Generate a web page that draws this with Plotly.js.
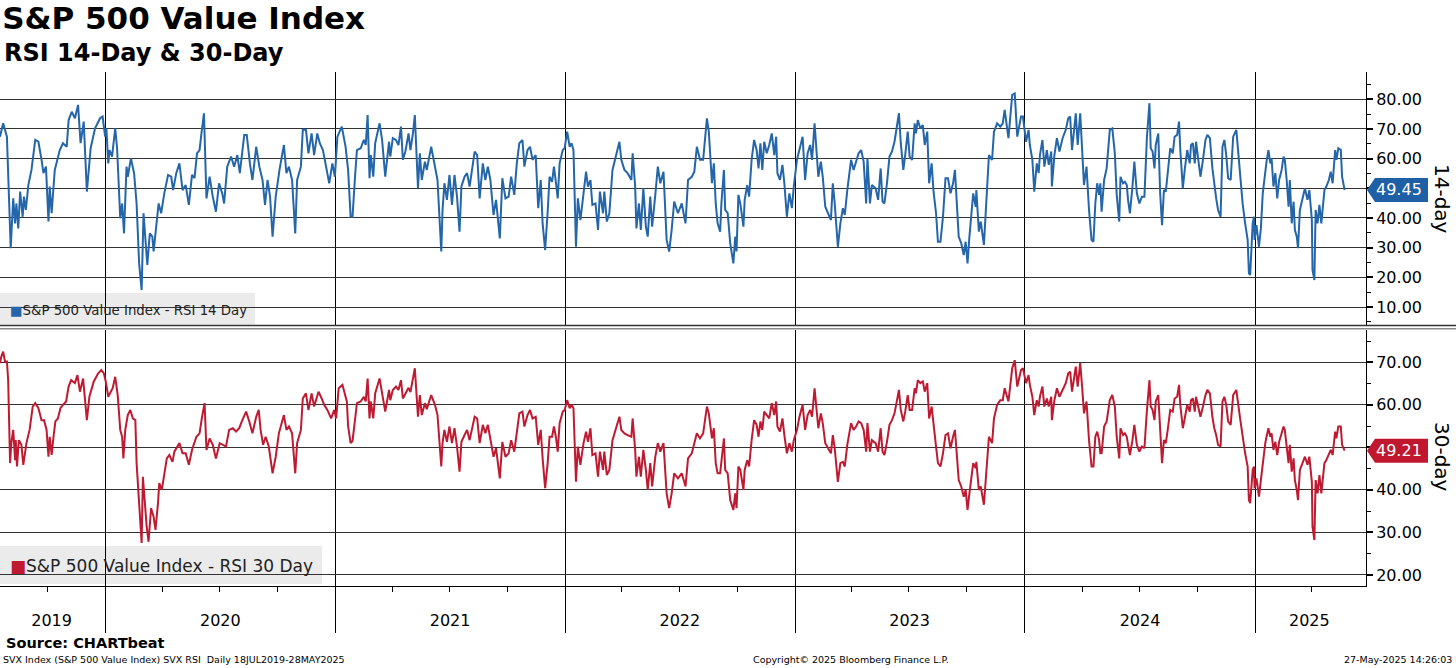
<!DOCTYPE html>
<html>
<head>
<meta charset="utf-8">
<script src="https://cdn.plot.ly/plotly-3.0.1.min.js"></script>
<style>
  html, body { margin: 0; padding: 0; background: #ffffff; }
  #chart { width: 1456px; height: 668px; }
</style>
</head>
<body>
<div id="chart"></div>
<script>
// ---------------- DATA ----------------
// 14-day RSI, Jul 2019 - mid Jan 2021
const datesEarly14 = [
'2019-07-18','2019-07-23','2019-07-29','2019-08-04','2019-08-08','2019-08-11','2019-08-13','2019-08-16','2019-08-19','2019-08-23',
'2019-08-25','2019-08-28','2019-09-01','2019-09-06','2019-09-12','2019-09-17','2019-09-22','2019-09-25','2019-09-29','2019-10-03',
'2019-10-05','2019-10-08','2019-10-13','2019-10-16','2019-10-21','2019-10-26','2019-11-01','2019-11-04','2019-11-09','2019-11-14',
'2019-11-19','2019-11-23','2019-11-28','2019-12-03','2019-12-09','2019-12-16','2019-12-24','2019-12-28',
'2020-01-01','2020-01-03','2020-01-06','2020-01-08','2020-01-12','2020-01-17','2020-01-20','2020-01-25','2020-01-28','2020-01-31',
'2020-02-04','2020-02-06','2020-02-11','2020-02-16','2020-02-20','2020-02-24','2020-02-28',
'2020-03-02','2020-03-05','2020-03-08','2020-03-12','2020-03-16','2020-03-18','2020-03-22','2020-03-26','2020-03-30',
'2020-04-04','2020-04-10','2020-04-15','2020-04-18','2020-04-23','2020-04-28',
'2020-05-03','2020-05-08','2020-05-13','2020-05-18','2020-05-22','2020-05-26','2020-05-30',
'2020-06-02','2020-06-06','2020-06-10','2020-06-15','2020-06-20','2020-06-25','2020-06-30',
'2020-07-05','2020-07-08','2020-07-13','2020-07-19','2020-07-24','2020-07-29',
'2020-08-02','2020-08-09','2020-08-13','2020-08-18','2020-08-22','2020-08-28',
'2020-09-02','2020-09-07','2020-09-11','2020-09-15','2020-09-19','2020-09-23','2020-09-28',
'2020-10-04','2020-10-11','2020-10-15','2020-10-19','2020-10-24','2020-10-29',
'2020-11-01','2020-11-07','2020-11-10','2020-11-15','2020-11-19','2020-11-24','2020-11-28',
'2020-12-03','2020-12-07','2020-12-12','2020-12-17','2020-12-22','2020-12-27','2020-12-31',
'2021-01-04','2021-01-11','2021-01-17'
];
const rsi14Early = [
67.4,71.9,67.4,29.8,46.6,38.2,44.9,36.5,48.9,40.4,
47.2,42.7,51.1,56.2,66.3,65.7,59.6,55.1,57.3,38.8,
50.6,41.6,56.2,59,62.9,65.2,64,73,75.8,73.6,
78.1,65.2,72.5,48.9,63.5,70.2,73.6,74.2,
67.4,70.2,58.4,62.9,60.7,70.2,63.5,39.9,44.9,34.8,
57.3,53.9,60.1,55.1,44.9,24.7,15.7,
41.6,31.5,24.2,34.8,33.7,28.7,38.2,44.9,41.6,
48.3,54.5,53.9,49.4,55.1,58.4,
49.4,51.1,44.4,54.5,53.4,61.8,62.9,
68.5,75.3,46.6,53.9,47.2,42.1,51.7,
48.3,44.9,57.3,60.7,57.3,61.2,
55.1,68,68,58.4,52.8,64,
57.3,52.8,44.4,52.8,47.2,33.7,47.2,
56.2,64.6,55.1,57.3,52.8,34.8,
52.8,57.3,69.7,69.7,61.8,68.5,61.2,
68.5,65.2,62.9,57.3,51.7,58.4,53.9,
67.4,70.8,64
];

// 30-day RSI, Jul 2019 - mid Jan 2021
const datesEarly30 = [
'2019-07-18','2019-07-20','2019-07-23','2019-07-26','2019-07-29','2019-07-31','2019-08-03','2019-08-05','2019-08-08','2019-08-11',
'2019-08-12','2019-08-14','2019-08-17','2019-08-21','2019-08-24','2019-08-26','2019-08-29','2019-09-03','2019-09-08','2019-09-12',
'2019-09-17','2019-09-22','2019-09-26','2019-09-30','2019-10-03','2019-10-05','2019-10-08','2019-10-11','2019-10-14','2019-10-18',
'2019-10-22','2019-10-26','2019-10-31','2019-11-04','2019-11-08','2019-11-14','2019-11-18','2019-11-22','2019-11-27','2019-12-03',
'2019-12-07','2019-12-14','2019-12-21','2019-12-26','2019-12-30',
'2020-01-02','2020-01-06','2020-01-10','2020-01-13','2020-01-17','2020-01-21','2020-01-25','2020-01-28','2020-01-30',
'2020-02-02','2020-02-06','2020-02-10','2020-02-14','2020-02-18','2020-02-20','2020-02-24','2020-02-28',
'2020-03-01','2020-03-04','2020-03-07','2020-03-10','2020-03-14','2020-03-18','2020-03-21','2020-03-25','2020-03-27','2020-03-31',
'2020-04-04','2020-04-08','2020-04-12','2020-04-17','2020-04-20','2020-04-25','2020-04-28',
'2020-05-03','2020-05-08','2020-05-13','2020-05-18','2020-05-25','2020-05-30',
'2020-06-03','2020-06-07','2020-06-10','2020-06-15','2020-06-20','2020-06-25',
'2020-07-01','2020-07-05','2020-07-11','2020-07-16','2020-07-22','2020-07-27',
'2020-08-01','2020-08-06','2020-08-12','2020-08-17','2020-08-22','2020-08-28',
'2020-09-01','2020-09-04','2020-09-08','2020-09-12','2020-09-17','2020-09-23','2020-09-28',
'2020-10-03','2020-10-11','2020-10-15','2020-10-19','2020-10-24','2020-10-29',
'2020-11-01','2020-11-07','2020-11-10','2020-11-15','2020-11-19','2020-11-24','2020-11-28',
'2020-12-05','2020-12-10','2020-12-14','2020-12-19','2020-12-25','2020-12-30',
'2021-01-02','2021-01-06','2021-01-12','2021-01-19'
];
const rsi30Early = [
69.8,71.3,72.5,70.2,70.2,65.8,46.3,51,54.1,47,
51.7,45.5,51.7,50.6,45.9,47.8,51,54.1,59.6,60.4,
59.2,56.4,56.4,54.1,47.8,52.5,48.2,52.5,56.1,56.8,
59.2,60,60.8,64.3,65.8,65.1,67,63.1,66.2,56.4,
61.9,65.5,67.4,68.2,67.4,
65.5,61.9,63.1,63.9,66.6,62.3,54.1,52.5,47.4,
54.1,57.6,58.8,56.8,56.4,46.3,35.3,27.5,
43.1,36.9,31.4,27.8,35.7,33.7,30.6,36.9,41.6,40,
43.9,47.4,48.2,46.6,49,50.2,51,
48.6,48.6,45.9,49.4,52.5,53.3,
57.2,60.4,49.4,52.1,50.6,47.4,
51,50.6,50.2,54.1,54.5,53.7,
54.5,56.4,58.4,56.1,53.3,57.2,
58.8,54.1,50.6,52.5,50.2,43.9,47.8,
53.3,57.6,54.1,54.9,53.3,43.9,
51,54.1,61.5,62.7,58.8,62.7,59.6,
63.1,61.5,60,58.8,56.8,58.8,
56.8,63.9,64.7,60.8
];

// From late Jan 2021 both series are read at the same dates
const dates2021 = [
'2021-01-21','2021-01-25','2021-01-28','2021-02-01','2021-02-04','2021-02-10','2021-02-15','2021-02-18','2021-02-21','2021-02-24',
'2021-02-26','2021-03-02','2021-03-05','2021-03-12','2021-03-16','2021-03-21','2021-03-27','2021-03-29','2021-04-02','2021-04-07',
'2021-04-11','2021-04-15','2021-04-18','2021-04-22','2021-04-27','2021-04-30','2021-05-04','2021-05-07','2021-05-12','2021-05-15',
'2021-05-18','2021-05-23','2021-05-26','2021-06-02','2021-06-08','2021-06-12','2021-06-18','2021-06-20','2021-06-23','2021-06-27',
'2021-07-01','2021-07-05','2021-07-09','2021-07-13','2021-07-17','2021-07-20','2021-07-25','2021-07-29','2021-08-02','2021-08-06',
'2021-08-10','2021-08-14','2021-08-18','2021-08-23','2021-08-27','2021-08-31','2021-09-04','2021-09-09','2021-09-13','2021-09-19',
'2021-09-23','2021-09-28','2021-10-03','2021-10-07','2021-10-12','2021-10-16','2021-10-20','2021-10-25','2021-10-28','2021-11-02',
'2021-11-06','2021-11-10','2021-11-15','2021-11-19','2021-11-23','2021-11-26','2021-11-30','2021-12-04','2021-12-07','2021-12-11',
'2021-12-14','2021-12-17','2021-12-20','2021-12-23','2021-12-28','2021-12-31'
];
const rsi14_2021 = [
56.2,40.4,40.4,53.9,62.9,63.5,66.3,64.6,74.7,53.4,
61.2,53.9,65.2,71.9,66.3,53.9,65.7,60.7,66.9,66.3,
64.6,70.8,59.6,62.4,68.5,62.9,68.5,74.7,50,61.8,
52.8,59,56.2,64,57.3,52.8,28.7,42.7,51.7,46.1,
54.5,44.4,54.5,47.2,35.4,50.6,53.9,55.1,50.6,56.7,
62.4,61.2,46.6,58.4,52.8,57.3,52.8,41,46.1,33.1,
53.4,46.6,47.2,53.9,47.8,58.4,65.2,66.3,57.3,62.9,
64,59.6,61.2,43.3,52.8,38.2,29.2,42.1,53.9,52.2,
57.3,52.2,46.6,58.4,62.9,63.5
];
const rsi30_2021 = [
55,51,51.5,56.5,60.4,60.8,61.9,60.8,66.2,56.8,
60.8,56.8,62.7,66.2,63.1,58.4,63.5,61.1,63.5,64.3,
63.5,65.8,61.5,62.7,64,63,66.2,68.6,57.2,62.3,
57.6,60.4,59,62.3,60,57.6,45.5,51,54.1,51.3,
54.9,51,54.5,50.2,44.3,51.3,52.9,54.1,51.7,54.9,
57.2,56.8,51,55.3,53.3,55.3,51.7,47.8,49.8,42.7,
51.3,47.8,48.6,51.7,49,54.1,58,58.4,54.9,57.6,
58.8,56.8,57.2,50.6,54.1,47.4,40.4,46.3,52.5,52.5,
54.9,52.5,49,55.7,58.4,58.8
];

const dates2022 = [
'2022-01-04','2022-01-08','2022-01-11','2022-01-14','2022-01-18','2022-01-21','2022-01-25','2022-01-30','2022-02-03','2022-02-06',
'2022-02-10','2022-02-13','2022-02-18','2022-02-22','2022-02-25','2022-03-02','2022-03-04','2022-03-08','2022-03-12','2022-03-17',
'2022-03-22','2022-03-28','2022-03-31','2022-04-05','2022-04-10','2022-04-16','2022-04-18','2022-04-22','2022-04-24','2022-04-28',
'2022-05-01','2022-05-05','2022-05-09','2022-05-12','2022-05-16','2022-05-19','2022-05-24','2022-05-28','2022-06-01','2022-06-06',
'2022-06-11','2022-06-15','2022-06-19','2022-06-23','2022-06-29','2022-07-05','2022-07-11','2022-07-15','2022-07-21','2022-07-25',
'2022-07-29','2022-08-03','2022-08-08','2022-08-14','2022-08-17','2022-08-22','2022-08-25','2022-08-28','2022-08-31','2022-09-04',
'2022-09-06','2022-09-10','2022-09-12','2022-09-16','2022-09-20','2022-09-25','2022-09-28','2022-09-30','2022-10-03','2022-10-06',
'2022-10-11','2022-10-13','2022-10-17','2022-10-20','2022-10-24','2022-10-28','2022-11-01','2022-11-04','2022-11-07','2022-11-10',
'2022-11-13','2022-11-17','2022-11-21','2022-11-25','2022-11-29','2022-12-02','2022-12-04','2022-12-08','2022-12-12','2022-12-15',
'2022-12-19','2022-12-23','2022-12-27','2022-12-30'
];
const rsi14_2022 = [
69.1,64,65.2,62.9,30.3,46.6,39.3,48.3,55.6,50.6,
52.8,44.4,44.9,36,48.9,41.6,48.9,38.8,41.6,56.2,
60.7,65.7,59.6,56.2,55.1,52.8,61.8,50.6,36.5,44.9,
36,50,37.1,33.7,47.2,37.1,47.8,57.3,51.7,55.6,
32.6,28.7,36,45.5,41.6,44.9,38.2,52.8,53.9,55.6,
64,59.6,59.6,73.6,69.1,51.7,58.4,44.9,38.2,35.4,
44.9,56.2,42.7,41.6,31.5,24.7,33.7,28.7,47.8,44.9,
37.1,46.1,51.1,47.2,59.6,66.3,62.9,56.7,65.2,56.2,
65.7,61.8,64.6,68.5,61.2,67.4,55.1,52.8,57.9,51.7,
40.4,48.3,43.3,50.6
];
const rsi30_2022 = [
61.1,59.2,60,59.2,41.9,50.2,45.9,51,53.7,51.3,
54.5,48.2,48.6,43.1,49,44.7,49,43.5,44.7,51.7,
54.5,57.2,54.1,53.3,52.9,52.5,56.8,49.4,43.1,47.8,
43.1,49.4,44.7,40,46.3,40.8,47.8,51,49,51,
39.2,35.7,39.2,43.9,42.7,43.9,40.8,47.4,48.6,51,
53.3,52.1,53.3,59.6,58,52.1,54.5,46.3,43.9,43.9,
47,52.1,44.7,43.9,37.6,35.3,39.2,35.7,45.5,44.7,
40,44.7,47,45.5,51.7,56.4,55.3,52.5,56.1,54.1,
58.4,57.6,56.8,60.4,57.6,60.8,54.9,53.7,56.8,52.9,
48.6,51,49,51.7
];

const dates2023 = [
'2023-01-04','2023-01-08','2023-01-13','2023-01-17','2023-01-21','2023-01-25','2023-01-28','2023-02-01','2023-02-04','2023-02-07',
'2023-02-11','2023-02-14','2023-02-18','2023-02-23','2023-02-27','2023-03-02','2023-03-05','2023-03-10','2023-03-14','2023-03-18',
'2023-03-21','2023-03-25','2023-03-28','2023-03-31','2023-04-04','2023-04-08','2023-04-12','2023-04-16','2023-04-20','2023-04-24',
'2023-04-26','2023-04-30','2023-05-03','2023-05-09','2023-05-13','2023-05-17','2023-05-20','2023-05-23','2023-05-27','2023-05-31',
'2023-06-04','2023-06-08','2023-06-12','2023-06-15','2023-06-18','2023-06-22','2023-06-25','2023-06-29','2023-07-02','2023-07-06',
'2023-07-10','2023-07-12','2023-07-15','2023-07-19','2023-07-23','2023-07-26','2023-07-30','2023-08-02','2023-08-06','2023-08-09',
'2023-08-13','2023-08-16','2023-08-20','2023-08-24','2023-08-28','2023-09-01','2023-09-05','2023-09-09','2023-09-12','2023-09-14',
'2023-09-18','2023-09-22','2023-09-26','2023-09-29','2023-10-02','2023-10-05','2023-10-08','2023-10-11','2023-10-15','2023-10-16',
'2023-10-20','2023-10-23','2023-10-28','2023-11-01','2023-11-05','2023-11-10','2023-11-13','2023-11-18','2023-11-23','2023-11-27',
'2023-11-30','2023-12-06','2023-12-12','2023-12-16','2023-12-20','2023-12-26','2023-12-29'
];
const rsi14_2023 = [
59.6,62.9,67.4,52.8,61.8,64.6,59.6,71.9,63.5,53.9,
59,53.9,43.8,41,39.3,51.7,44.9,30.3,38.2,43.3,
41,49.4,55.1,59.6,56.2,59,61.8,62.9,59,44.9,
60.1,44.9,51.1,50,46.1,56.7,45.5,44.9,51.7,60.7,
62.4,65.7,70.8,75.3,65.2,56.2,61.2,69.1,60.7,59.6,
71.9,68.5,73,70.2,71.3,64.6,69.1,51.7,58.4,48.9,
41.6,32,32,40.4,53.4,53.4,48.3,51.7,56.2,48.3,
33.7,31.5,27.5,32,24.7,33.7,41.6,48.3,43.8,49.4,
35.4,38.8,30.9,44.9,61.2,59.6,69.1,71.9,70.8,71.9,
76.4,66.9,81.5,82,67.4,74.2,74.2
];
const rsi30_2023 = [
54.1,57.2,60,54.1,57.6,58.8,57.2,63.9,58.8,54.5,
58,55.7,51,49.8,48.6,52.9,49.8,41.9,46.3,46.6,
45.5,50.6,53.7,55.7,54.1,54.9,56.1,55.7,54.1,49,
55.7,49,51.7,51,49,54.5,49,48.2,51.3,55.3,
56.4,58,61.1,63.5,58.8,56.1,58.4,62.3,58.8,58.8,
63.9,62.7,65.8,65.1,65.5,63.1,65.1,56.8,59.6,54.9,
50.2,46.3,45.5,48.6,52.9,53.3,49.8,52.5,54.1,50.2,
42.3,40.8,38.4,40,35.3,39.2,43.1,46.3,45.1,46.6,
40,40.8,36.5,44.7,52.5,51,56.8,60,61.1,61.1,
63.9,60.8,68.6,70.5,64.3,68.2,68.6
];

const dates2024 = [
'2024-01-03','2024-01-07','2024-01-09','2024-01-13','2024-01-16','2024-01-20','2024-01-23','2024-01-25','2024-01-29','2024-02-01',
'2024-02-05','2024-02-08','2024-02-12','2024-02-13','2024-02-17','2024-02-21','2024-02-25','2024-03-01','2024-03-06','2024-03-10',
'2024-03-13','2024-03-16','2024-03-22','2024-03-25','2024-03-29','2024-04-01','2024-04-04','2024-04-08','2024-04-12','2024-04-16',
'2024-04-19','2024-04-22','2024-04-25','2024-04-28','2024-04-30','2024-05-02','2024-05-06','2024-05-10','2024-05-13','2024-05-15',
'2024-05-19','2024-05-23','2024-05-26','2024-05-30','2024-06-01','2024-06-05','2024-06-08','2024-06-11','2024-06-13','2024-06-16',
'2024-06-20','2024-06-23','2024-06-27','2024-07-01','2024-07-05','2024-07-09','2024-07-13','2024-07-17','2024-07-19','2024-07-22',
'2024-07-25','2024-07-27','2024-07-31','2024-08-03','2024-08-06','2024-08-09','2024-08-12','2024-08-15','2024-08-19','2024-08-23',
'2024-08-26','2024-08-30','2024-09-02','2024-09-04','2024-09-08','2024-09-11','2024-09-15','2024-09-19','2024-09-21','2024-09-24',
'2024-09-27','2024-09-29','2024-10-03','2024-10-06','2024-10-10','2024-10-14','2024-10-17','2024-10-21','2024-10-25','2024-10-28',
'2024-10-31','2024-11-03','2024-11-07','2024-11-10','2024-11-13','2024-11-16','2024-11-19','2024-11-23','2024-11-27','2024-12-02',
'2024-12-08','2024-12-12','2024-12-16','2024-12-20','2024-12-22','2024-12-24','2024-12-28','2024-12-30','2024-12-31'
];
const rsi14_2024 = [
65.7,69.7,64.6,59.6,48.9,58.4,55.1,61.2,66.3,57.3,
62.9,57.9,62.4,50.6,61.2,66.9,62.4,66.9,69.7,73.6,
74.2,62.9,75.3,64.6,75.3,61.2,51.1,57.3,42.7,32.6,
32,44.9,51.7,47.8,51.7,42.1,52.8,56.7,63.5,69.7,
70.2,61.8,47.8,38.8,53.9,51.7,52.2,51.1,46.1,41.6,
50.6,59,48.3,44.9,47.2,47.2,67.4,78.7,63.5,62.4,
56.7,64.6,68.5,48.3,37.6,49.4,48.9,56.2,63.5,61.8,
67.4,68,72.5,62.9,50,56.2,62.9,58.4,64.6,65.2,
58.4,65.7,59.6,53.9,59.6,66.3,68,66.9,56.7,51.1,
46.6,42.7,40.4,64,66.3,61.2,53.4,52.8,67.4,69.7,
55.1,44.9,38.2,32.6,21.3,20.8,38.2,40.4,32.6
];
const rsi30_2024 = [
65.1,67,64.7,61.9,57.6,61.1,59.6,61.9,64.3,59.6,
61.5,59.6,61.9,56.4,61.1,63.9,61.9,63.5,65.1,67.4,
67.8,63.1,69,64.3,69.8,64.3,58,60.8,51.7,45.5,
45.5,52.5,53.7,51.7,48.6,48.6,54.9,56.1,58.8,61.1,
62.3,59.6,52.5,47.4,54.5,52.9,53.3,52.5,50.6,48.2,
51.7,55.3,50.6,49,50.2,49.8,58.8,65.8,59.6,58.8,
56.4,60.8,62.3,52.5,46.3,51.7,51,54.1,58.8,58.4,
61.5,61.9,64.7,60,54.5,56.8,60,58.4,61.1,61.5,
58.4,61.9,58.8,57.2,59.6,62.3,63.5,62.7,57.2,54.5,
52.9,50.6,50.2,60.8,61.9,60,56.1,55.3,62.3,63.5,
56.8,52.5,48.6,45.5,37.6,36.9,44.7,45.5,40.4
];

const dates2025 = [
'2025-01-03','2025-01-07','2025-01-10','2025-01-13','2025-01-17','2025-01-19','2025-01-22','2025-01-25','2025-01-27','2025-01-30',
'2025-02-02','2025-02-05','2025-02-08','2025-02-12','2025-02-15','2025-02-17','2025-02-20','2025-02-23','2025-02-25','2025-02-28',
'2025-03-03','2025-03-05','2025-03-08','2025-03-10','2025-03-13','2025-03-17','2025-03-21','2025-03-25','2025-03-28','2025-04-01',
'2025-04-02','2025-04-05','2025-04-07','2025-04-10','2025-04-13','2025-04-16','2025-04-21','2025-04-24','2025-04-28','2025-05-01',
'2025-05-04','2025-05-08','2025-05-10','2025-05-13','2025-05-17','2025-05-19','2025-05-23'
];
const rsi14_2025 = [
37.6,30.3,36.5,48.3,56.2,59,62.9,58.4,60.1,50.6,
55.1,46.6,52.8,56.2,60.7,59.6,52.8,43.8,52.8,38.2,
45.5,36,33.7,29.8,42.7,46.1,50,46.1,49.4,39.3,
22.5,19.1,42.7,38.2,44.4,38.2,49.4,50.6,52.8,55.6,
51.7,62.9,59.6,63.5,62.9,53.9,49.45
];
const rsi30_2025 = [
42.7,38.4,42.3,46.6,51,52.5,54.5,52.5,53.3,49.4,
51.3,48.2,51.3,53.3,54.9,54.1,50.6,46.3,50.6,44.3,
47.4,42.3,40,37.6,44.7,46.3,47.8,45.9,47.8,41.9,
31.4,28.2,42.3,39.2,43.5,39.2,46.3,47,48.2,49.4,
48.2,53.7,52.1,54.9,54.9,50.6,49.21
];

// Axis labels / ticks
const yearLabels = ['2019','2020','2021','2022','2023','2024','2025'];
const yearLabelDates = ['2019-10-08','2020-07-02','2021-07-02','2022-07-02','2023-07-02','2024-07-02','2025-03-28'];
const ticks14 = [10,20,30,40,50,60,70,80];
const ticks30 = [20,30,40,50,60,70];
const seriesNames = ['S&P 500 Value Index - RSI 14 Day','S&P 500 Value Index - RSI 30 Day'];

// ---------------- ASSEMBLY ----------------
const dates14 = [].concat(datesEarly14, dates2021, dates2022, dates2023, dates2024, dates2025);
const rsi14 = [].concat(rsi14Early, rsi14_2021, rsi14_2022, rsi14_2023, rsi14_2024, rsi14_2025);
const dates30 = [].concat(datesEarly30, dates2021, dates2022, dates2023, dates2024, dates2025);
const rsi30 = [].concat(rsi30Early, rsi30_2021, rsi30_2022, rsi30_2023, rsi30_2024, rsi30_2025);
const last14 = rsi14[rsi14.length - 1];
const last30 = rsi30[rsi30.length - 1];

const BLUE = '#2466a9', BLUE_TAG = '#1f5fa6';
const RED = '#be1a31', RED_TAG = '#c0172f';
const FONT = 'DejaVu Sans, Verdana, sans-serif';

const W = 1456, H = 668;
const M = {l: 0, r: 90, t: 72, b: 82};
const plotH = H - M.t - M.b, plotW = W - M.l - M.r;
const py = Y => (H - M.b - Y) / plotH;   // pixel row -> paper fraction
const px = X => (X - M.l) / plotW;       // pixel col -> paper fraction

const tickText = (vals, last) => vals.map(v => Math.abs(v - last) < 5 ? '' : v.toFixed(2));

const yCommon = {
  side: 'right', anchor: 'x', showline: true, linecolor: '#000', linewidth: 1,
  ticks: 'outside', ticklen: 6, tickwidth: 2, tickcolor: '#000',
  tickmode: 'array', showgrid: true, gridcolor: '#333', gridwidth: 1, zeroline: false,
  tickfont: {family: FONT, size: 16, color: '#000'},
  minor: {ticks: 'outside', ticklen: 4, tickwidth: 1, tickcolor: '#000', tickmode: 'linear', tick0: 0, dtick: 5, showgrid: false},
  fixedrange: true
};

const traces = [
  {x: dates30, y: rsi30, xaxis: 'x', yaxis: 'y', type: 'scatter', mode: 'lines',
   line: {color: RED, width: 2}, name: seriesNames[1], hoverinfo: 'skip'},
  {x: dates14, y: rsi14, xaxis: 'x', yaxis: 'y2', type: 'scatter', mode: 'lines',
   line: {color: BLUE, width: 2}, name: seriesNames[0], hoverinfo: 'skip'},
  {x: [dates30[0]], y: [rsi30[0]], xaxis: 'x2', yaxis: 'y', type: 'scatter', mode: 'markers',
   marker: {opacity: 0}, hoverinfo: 'skip', showlegend: false}
];

const xRange = ['2019-07-18', '2025-06-26'];

const layout = {
  width: W, height: H, margin: M,
  paper_bgcolor: '#ffffff', plot_bgcolor: 'rgba(0,0,0,0)',
  showlegend: false,
  font: {family: FONT, color: '#000'},
  title: {text: '<b>S&P 500 Value Index</b>', font: {family: FONT, size: 31, color: '#000'},
          xref: 'container', yref: 'container', x: 0.0015, xanchor: 'left', y: 1 - 18 / H, yanchor: 'middle'},
  xaxis: {
    type: 'date', range: xRange, anchor: 'y', domain: [0, 1],
    showline: true, linecolor: '#000', linewidth: 1,
    ticks: 'outside', ticklen: 46, tickwidth: 1, tickcolor: '#000',
    tickmode: 'linear', tick0: '2020-01-01', dtick: 'M12', showticklabels: false,
    showgrid: true, gridcolor: '#000', gridwidth: 1, zeroline: false,
    minor: {ticks: 'outside', ticklen: 5, tickwidth: 1, tickcolor: '#000', tick0: '2020-01-01', dtick: 'M3', showgrid: false},
    fixedrange: true
  },
  xaxis2: {
    type: 'date', range: xRange, overlaying: 'x', anchor: 'y', side: 'bottom',
    tickmode: 'array', tickvals: yearLabelDates, ticktext: yearLabels,
    ticks: 'outside', ticklen: 20, tickcolor: 'rgba(0,0,0,0)',
    showgrid: false, showline: false, zeroline: false,
    tickfont: {family: FONT, size: 16, color: '#000'}, fixedrange: true
  },
  yaxis: Object.assign({}, yCommon, {
    domain: [0, py(330)], range: [17.4, 77.6],
    tickvals: ticks30, ticktext: tickText(ticks30, last30)
  }),
  yaxis2: Object.assign({}, yCommon, {
    domain: [py(326), 1], range: [3.6, 89.2],
    tickvals: ticks14, ticktext: tickText(ticks14, last14)
  }),
  shapes: [
    // panel separator (double rule)
    {type: 'line', xref: 'paper', yref: 'paper', x0: 0, x1: px(W), y0: py(325.5), y1: py(325.5), line: {color: '#333', width: 1.5}, layer: 'above'},
    {type: 'line', xref: 'paper', yref: 'paper', x0: 0, x1: px(W), y0: py(328.8), y1: py(328.8), line: {color: '#8a8a8a', width: 1.5}, layer: 'above'},
    // legend boxes
    {type: 'rect', xref: 'paper', yref: 'paper', x0: 0, x1: px(255), y0: py(324.5), y1: py(293), fillcolor: '#ebebeb', line: {width: 0}, layer: 'between'},
    {type: 'rect', xref: 'paper', yref: 'paper', x0: 0, x1: px(322), y0: py(584), y1: py(546), fillcolor: '#ebebeb', line: {width: 0}, layer: 'between'},
    // last-value tags
    {type: 'path', xref: 'paper', yref: 'y2', xsizemode: 'pixel', ysizemode: 'pixel', xanchor: 1, yanchor: last14,
     path: 'M 1 0 L 9 12 L 62 12 L 62 -12 L 9 -12 Z', fillcolor: BLUE_TAG, line: {width: 0}, layer: 'above'},
    {type: 'path', xref: 'paper', yref: 'y', xsizemode: 'pixel', ysizemode: 'pixel', xanchor: 1, yanchor: last30,
     path: 'M 1 0 L 9 12 L 62 12 L 62 -12 L 9 -12 Z', fillcolor: RED_TAG, line: {width: 0}, layer: 'above'}
  ],
  annotations: [
    {text: '<b>RSI 14-Day & 30-Day</b>', xref: 'paper', yref: 'paper', x: px(2), y: py(53.5), xanchor: 'left', yanchor: 'middle',
     showarrow: false, font: {family: FONT, size: 24, color: '#000'}},
    // legends
    {text: '<span style="color:' + BLUE + '">■</span>' + seriesNames[0], xref: 'paper', yref: 'paper', x: px(8), y: py(310.5),
     xanchor: 'left', yanchor: 'middle', showarrow: false, font: {family: FONT, size: 13.3, color: '#222'}},
    {text: '<span style="color:' + RED + '">■</span>' + seriesNames[1], xref: 'paper', yref: 'paper', x: px(8), y: py(566),
     xanchor: 'left', yanchor: 'middle', showarrow: false, font: {family: FONT, size: 17, color: '#222'}},
    // right-hand axis titles
    {text: '14-day', xref: 'paper', yref: 'paper', x: px(1442), y: py(199), xanchor: 'center', yanchor: 'middle',
     textangle: 90, showarrow: false, font: {family: FONT, size: 20, color: '#000'}},
    {text: '30-day', xref: 'paper', yref: 'paper', x: px(1442), y: py(457), xanchor: 'center', yanchor: 'middle',
     textangle: 90, showarrow: false, font: {family: FONT, size: 20, color: '#000'}},
    // tag texts
    {text: last14.toFixed(2), xref: 'paper', yref: 'y2', x: 1, y: last14, xanchor: 'left', yanchor: 'middle', xshift: 8,
     showarrow: false, font: {family: FONT, size: 16, color: '#fff'}},
    {text: last30.toFixed(2), xref: 'paper', yref: 'y', x: 1, y: last30, xanchor: 'left', yanchor: 'middle', xshift: 8,
     showarrow: false, font: {family: FONT, size: 16, color: '#fff'}},
    // footer
    {text: '<b>Source: CHARTbeat</b>', xref: 'paper', yref: 'paper', x: px(4), y: py(642.5), xanchor: 'left', yanchor: 'middle',
     showarrow: false, font: {family: FONT, size: 14.5, color: '#000'}},
    {text: 'SVX Index (S&P 500 Value Index) SVX RSI \u00a0Daily 18JUL2019-28MAY2025', xref: 'paper', yref: 'paper', x: px(1), y: py(659.5),
     xanchor: 'left', yanchor: 'middle', showarrow: false, font: {family: FONT, size: 9.5, color: '#000'}},
    {text: 'Copyright\u00a9 2025 Bloomberg Finance L.P.', xref: 'paper', yref: 'paper', x: px(851), y: py(659.5),
     xanchor: 'center', yanchor: 'middle', showarrow: false, font: {family: FONT, size: 9.5, color: '#000'}},
    {text: '27-May-2025 14:26:03', xref: 'paper', yref: 'paper', x: px(1454), y: py(659.5),
     xanchor: 'right', yanchor: 'middle', showarrow: false, font: {family: FONT, size: 9.5, color: '#000'}}
  ]
};

Plotly.newPlot('chart', traces, layout, {staticPlot: true, displayModeBar: false});
</script>
</body>
</html>
